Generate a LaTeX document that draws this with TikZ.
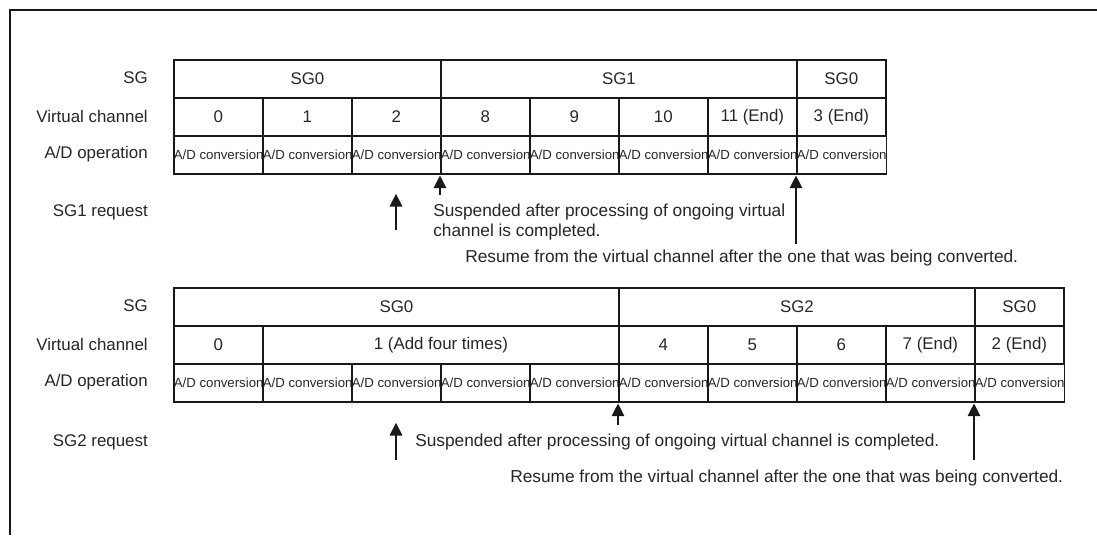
\documentclass[tikz,border=0pt]{standalone}
\usepackage{fontspec}
\setmainfont{Liberation Sans}
\usetikzlibrary{arrows.meta}

\tikzset{
  cell/.style={draw=black!90,line width=1.2pt,anchor=north west,inner sep=0pt,
    minimum height=0.95cm,minimum width=#1*2.225cm,text=black!85,
    font=\fontsize{12}{14}\selectfont},
  cell/.default=1,
  adcell/.style={cell,font=\fontsize{9.4}{11}\selectfont},
  rowlabel/.style={anchor=east,inner sep=0pt,text=black!85,font=\fontsize{12}{14}\selectfont},
  note/.style={anchor=west,inner sep=0pt,align=left,text=black!85,font=\fontsize{12.3}{14.2}\selectfont},
  req/.style={-{Triangle[length=9pt,width=9pt]},line width=0.8pt,black!90,shorten >=0.6pt},
}

\begin{document}
\begin{tikzpicture}[x=0.025cm,y=-0.025cm]
    \useasboundingbox (0,0) rectangle (1097,535);
    \draw [line width=1.4pt,black!90] (10,535) -- (10,10) -- (1097,10);
    % SG1 request
    \node [rowlabel] (l1sg) at (148,78) {SG};
    \node [rowlabel] (l1vc) at (148,116) {Virtual channel};
    \node [rowlabel] (l1ad) at (148,154) {A/D operation};
    \node [rowlabel] (l1rq) at (148,212) {SG1 request};
    \node [cell=3] (t1sg0) at (173,59) {SG0};
    \node [cell=4] (t1sg1) at (440,59) {SG1};
    \node [cell] (t1sg0b) at (796,59) {SG0};
    \node [cell] (t1vc1) at (173,97) {0};
    \node [cell] (t1vc2) at (262,97) {1};
    \node [cell] (t1vc3) at (351,97) {2};
    \node [cell] (t1vc4) at (440,97) {8};
    \node [cell] (t1vc5) at (529,97) {9};
    \node [cell] (t1vc6) at (618,97) {10};
    \node [cell] (t1vc7) at (707,97) {11 (End)};
    \node [cell] (t1vc8) at (796,97) {3 (End)};
    \foreach \i in {1,...,8}
        \node [adcell] (t1ad\i) at ({173+89*(\i-1)},135) {A/D conversion};
    \coordinate (q1) at (396,230);
    \coordinate (q1tip) at (396,193);
    \coordinate (s1) at (440,195);
    \coordinate (m1) at (796,244);
    \draw [req] (q1) -- (q1tip);
    \draw [req] (s1) -- (t1ad4.south west);
    \draw [req] (m1) -- (t1ad8.south west);
    \node [note] (n1s) at (433,222) {Suspended after processing of ongoing virtual\\channel is completed.};
    \node [note] (n1m) at (465,258) {Resume from the virtual channel after the one that was being converted.};
    % SG2 request
    \node [rowlabel] (l2sg) at (148,306) {SG};
    \node [rowlabel] (l2vc) at (148,344) {Virtual channel};
    \node [rowlabel] (l2ad) at (148,382) {A/D operation};
    \node [rowlabel] (l2rq) at (148,442) {SG2 request};
    \node [cell=5] (t2sg0) at (173,287) {SG0};
    \node [cell=4] (t2sg2) at (618,287) {SG2};
    \node [cell] (t2sg0b) at (974,287) {SG0};
    \node [cell] (t2vc1) at (173,325) {0};
    \node [cell=4] (t2vc2) at (262,325) {1 (Add four times)};
    \node [cell] (t2vc3) at (618,325) {4};
    \node [cell] (t2vc4) at (707,325) {5};
    \node [cell] (t2vc5) at (796,325) {6};
    \node [cell] (t2vc6) at (885,325) {7 (End)};
    \node [cell] (t2vc7) at (974,325) {2 (End)};
    \foreach \i in {1,...,10}
        \node [adcell] (t2ad\i) at ({173+89*(\i-1)},363) {A/D conversion};
    \coordinate (q2) at (396,460);
    \coordinate (q2tip) at (396,422);
    \coordinate (s2) at (618,425);
    \coordinate (m2) at (974,460);
    \draw [req] (q2) -- (q2tip);
    \draw [req] (s2) -- (t2ad6.south west);
    \draw [req] (m2) -- (t2ad10.south west);
    \node [note] (n2s) at (415,442) {Suspended after processing of ongoing virtual channel is completed.};
    \node [note] (n2m) at (510,478) {Resume from the virtual channel after the one that was being converted.};
\end{tikzpicture}
\end{document}
